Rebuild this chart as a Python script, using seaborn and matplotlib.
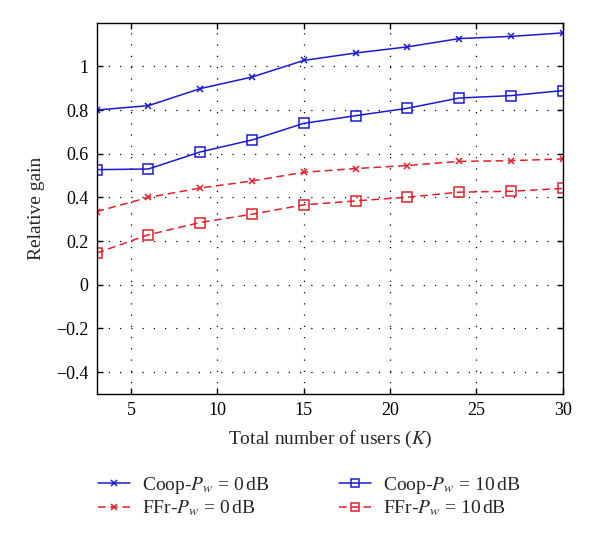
import numpy as np
import pandas as pd
import matplotlib
matplotlib.use("Agg")
import matplotlib.pyplot as plt
import seaborn as sns

users = [3, 6, 9, 12, 15, 18, 21, 24, 27, 30]
coop_0db = [0.800, 0.820, 0.898, 0.951, 1.027, 1.061, 1.089, 1.127, 1.137, 1.153]
coop_10db = [0.527, 0.530, 0.608, 0.663, 0.739, 0.774, 0.808, 0.855, 0.866, 0.889]
ffr_0db = [0.335, 0.400, 0.443, 0.475, 0.515, 0.532, 0.546, 0.565, 0.568, 0.576]
ffr_10db = [0.145, 0.229, 0.285, 0.323, 0.366, 0.384, 0.401, 0.424, 0.428, 0.441]

labels = [r"Coop-$P_w$ = 0$\,$dB", r"FFr-$P_w$ = 0$\,$dB",
          r"Coop-$P_w$ = 10$\,$dB", r"FFr-$P_w$ = 10$\,$dB"]
series = [coop_0db, ffr_0db, coop_10db, ffr_10db]
colors = ["#1a1acc", "#e0202a", "#1a1acc", "#e0202a"]
markers = ["x", "x", "s", "s"]
dashes = ["-", (0, (5, 3)), "-", (0, (5, 3))]
msizes = [5, 5, 7, 7]

sns.set_theme(style="white")
plt.rcParams["font.family"] = ["Liberation Serif", "DejaVu Serif"]
plt.rcParams["mathtext.fontset"] = "stix"

fig = plt.figure(figsize=(6.0, 5.39), dpi=100)
ax = fig.add_axes([0.161, 0.269, 0.777, 0.689])

for vals, lab, c, m, ls, ms in zip(series, labels, colors, markers, dashes, msizes):
    df = pd.DataFrame({"users": users, "gain": vals})
    sns.lineplot(data=df, x="users", y="gain", ax=ax, color=c, marker=m,
                 markersize=ms, linewidth=1.1, label=lab,
                 markerfacecolor="none" if m == "s" else c,
                 markeredgecolor=c, markeredgewidth=1.1)
    ax.lines[-1].set_linestyle(ls)

ax.set_xlim(3, 30)
ax.set_ylim(-0.5, 1.2)
ax.set_xticks([5, 10, 15, 20, 25, 30])
ax.set_yticks([-0.4, -0.2, 0, 0.2, 0.4, 0.6, 0.8, 1.0])
ax.set_yticklabels(["\u22120.4", "\u22120.2", "0", "0.2", "0.4", "0.6", "0.8", "1"])
ax.grid(True, color="black", linestyle=(0, (1, 8)), linewidth=0.9)
ax.tick_params(direction="in", length=4, width=1, colors="black", labelsize=13,
               top=True, right=True, bottom=True, left=True, pad=6)
for s in ax.spines.values():
    s.set_color("black")
    s.set_linewidth(1.0)
ax.set_xlabel(r"Total number of users ($K$)", fontsize=14, labelpad=7)
ax.set_ylabel("Relative gain", fontsize=14, labelpad=8)

handles, labs = ax.get_legend_handles_labels()
leg = ax.legend(handles, labs, ncol=2, frameon=False, fontsize=14,
                loc="upper left", bbox_to_anchor=(-0.035, -0.17),
                handlelength=1.65, handletextpad=0.62, columnspacing=3.6,
                labelspacing=0.15, markerscale=0.75)

fig.savefig("out.png", dpi=100)
